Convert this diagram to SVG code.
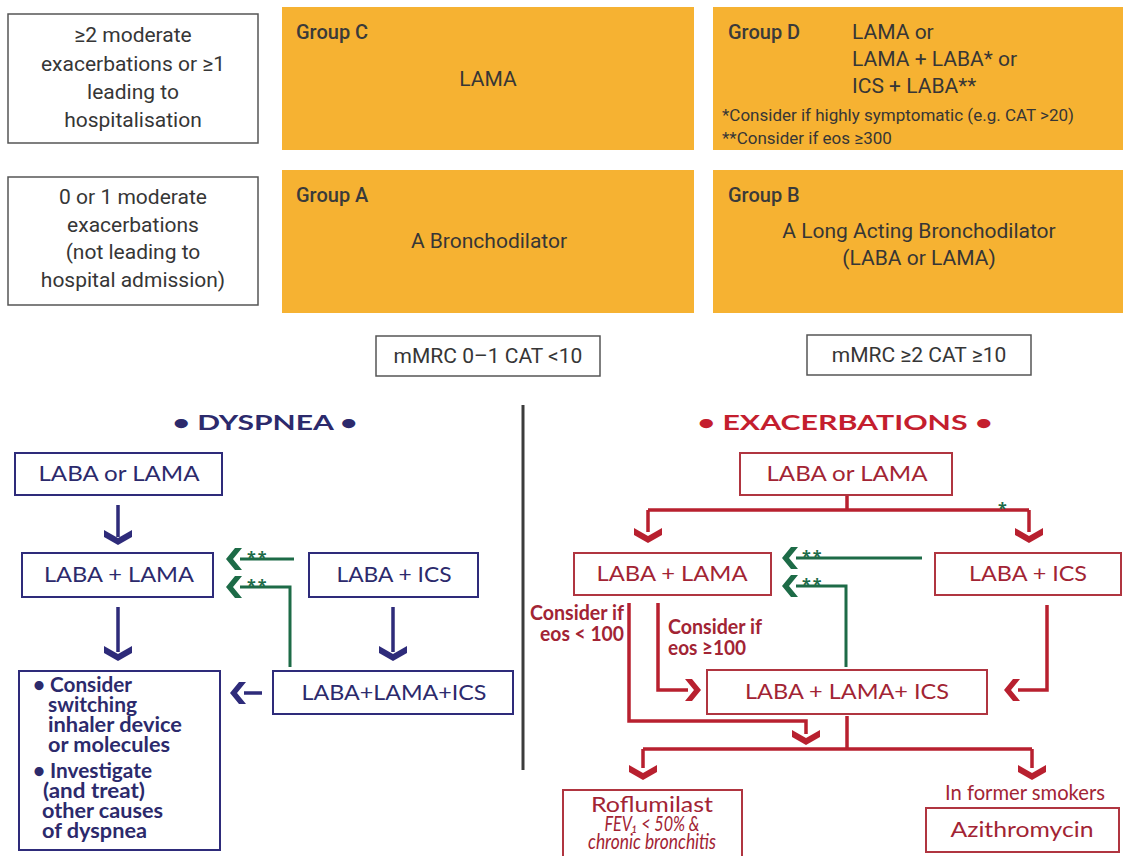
<svg xmlns="http://www.w3.org/2000/svg" width="1123" height="856" viewBox="0 0 1123 856">
<style>
.tb{fill:#fff;stroke:#555;stroke-width:1.5}
.or{fill:#F6B232}
.t{font-family:Roboto,"Liberation Sans",sans-serif;font-size:21px;fill:#363636}
.g{font-weight:500;fill:#3a3a3a;font-size:20px}
.fn{font-size:17px}
.nb{fill:#fff;stroke:#2e2b7a;stroke-width:2}
.rb{fill:#fff;stroke:#b03540;stroke-width:2}
.b{font-family:Lato,"Open Sans","Liberation Sans",sans-serif;font-size:21px}
.nt{fill:#2c2a6c}
.rt{fill:#a22434}
.sb{font-weight:700}
.nl{stroke:#2e2b7a;stroke-width:3.5;fill:none}
.rl{stroke:#b8202f;stroke-width:3.5;fill:none}
.gl{stroke:#1d6b47;stroke-width:3;fill:none}
.nf{fill:#2e2b7a}
.rf{fill:#b8202f}
.gf{fill:#1d6b47}
.ast{font-family:"Open Sans","Liberation Sans",sans-serif;font-size:16px;font-weight:700;fill:#1d6b47;letter-spacing:2px}
</style>
<defs>
<path id="chd" d="M0,0 L-14,-8 L-14,-15 L0,-7 L14,-15 L14,-8 Z"/>
<path id="chl" d="M0,0 L9,-11 L16,-11 L7,0 L16,11 L9,11 Z"/>
<path id="chr" d="M0,0 L-9,-11 L-16,-11 L-7,0 L-16,11 L-9,11 Z"/>
</defs>
<rect x="0" y="0" width="1123" height="856" fill="#fff"/>

<!-- top grid -->
<g id="row-high">
<rect class="tb" x="8" y="14" width="250" height="129"/>
<text class="t" text-anchor="middle"><tspan x="133" y="42">≥2 moderate</tspan><tspan x="133" y="71">exacerbations or ≥1</tspan><tspan x="133" y="99">leading to</tspan><tspan x="133" y="127">hospitalisation</tspan></text>
</g>
<g id="group-c">
<rect class="or" x="282" y="7" width="412" height="143"/>
<text class="t g" x="296" y="39">Group C</text>
<text class="t" x="488" y="86" text-anchor="middle">LAMA</text>
</g>
<g id="group-d">
<rect class="or" x="713" y="7" width="410" height="143"/>
<text class="t g" x="728" y="39">Group D</text>
<text class="t"><tspan x="852" y="39">LAMA or</tspan><tspan x="852" y="66">LAMA + LABA* or</tspan><tspan x="852" y="93">ICS + LABA**</tspan></text>
<text class="t fn"><tspan x="722" y="121">*Consider if highly symptomatic (e.g. CAT &gt;20)</tspan><tspan x="722" y="144">**Consider if eos ≥300</tspan></text>
</g>
<g id="row-low">
<rect class="tb" x="8" y="177" width="250" height="128"/>
<text class="t" text-anchor="middle"><tspan x="133" y="204">0 or 1 moderate</tspan><tspan x="133" y="232">exacerbations</tspan><tspan x="133" y="259">(not leading to</tspan><tspan x="133" y="287">hospital admission)</tspan></text>
</g>
<g id="group-a">
<rect class="or" x="282" y="170" width="412" height="143"/>
<text class="t g" x="296" y="202">Group A</text>
<text class="t" x="489" y="248" text-anchor="middle">A Bronchodilator</text>
</g>
<g id="group-b">
<rect class="or" x="713" y="170" width="410" height="143"/>
<text class="t g" x="728" y="202">Group B</text>
<text class="t" text-anchor="middle"><tspan x="919" y="238">A Long Acting Bronchodilator</tspan><tspan x="919" y="265">(LABA or LAMA)</tspan></text>
</g>
<g id="mmrc-low">
<rect class="tb" x="376" y="336" width="224" height="40"/>
<text class="t" x="488" y="363" text-anchor="middle" font-size="20">mMRC 0–1 CAT &lt;10</text>
</g>
<g id="mmrc-high">
<rect class="tb" x="807" y="335" width="224" height="40"/>
<text class="t" x="919" y="362" text-anchor="middle" font-size="20">mMRC ≥2 CAT ≥10</text>
</g>

<!-- divider -->
<line x1="523" y1="405" x2="523" y2="770" stroke="#3c3c3c" stroke-width="3"/>

<!-- headings -->
<g id="head-dys"><text class="b nt" x="265" y="430" text-anchor="middle" font-size="25" font-weight="700" textLength="185" lengthAdjust="spacingAndGlyphs">• DYSPNEA •</text></g>
<g id="head-exa"><text class="b" x="845" y="430" text-anchor="middle" font-size="25" font-weight="700" fill="#c41e2e" textLength="295" lengthAdjust="spacingAndGlyphs">• EXACERBATIONS •</text></g>

<!-- connectors -->
<g id="connectors">
<path class="nl" d="M118,505 V537 M118,607 V652 M393,607 V652 M262,693 H244"/>
<use href="#chd" class="nf" x="118" y="545"/>
<use href="#chd" class="nf" x="118" y="661"/>
<use href="#chd" class="nf" x="393" y="661"/>
<use href="#chl" class="nf" x="230" y="693"/>
<path class="gl" d="M294,559 H240 M290,667 V587 H240"/>
<use href="#chl" class="gf" x="226" y="559"/>
<use href="#chl" class="gf" x="226" y="587"/>
<text class="ast" x="247" y="563">**</text>
<text class="ast" x="247" y="591">**</text>

<path class="rl" d="M847,495 V510 M648,510 H1029 M648,510 V532 M1029,510 V532"/>
<use href="#chd" class="rf" x="648" y="543"/>
<use href="#chd" class="rf" x="1029" y="543"/>
<text class="ast" x="998" y="514">*</text>
<path class="gl" d="M922,558 H796 M846,667 V586 H796"/>
<use href="#chl" class="gf" x="782" y="558"/>
<use href="#chl" class="gf" x="782" y="586"/>
<text class="ast" x="802" y="562">**</text>
<text class="ast" x="802" y="590">**</text>
<path class="rl" d="M629,603 V721 H806 V734 M658,603 V690 H688 M1047,605 V690 H1018 M847,716 V749 M643,749 H1032 M643,749 V768 M1032,749 V768"/>
<use href="#chd" class="rf" x="806" y="745"/>
<use href="#chr" class="rf" x="701" y="690"/>
<use href="#chl" class="rf" x="1004" y="690"/>
<use href="#chd" class="rf" x="643" y="780"/>
<use href="#chd" class="rf" x="1032" y="780"/>
<text class="b rt sb" font-size="16" text-anchor="end"><tspan x="624" y="620" textLength="94" lengthAdjust="spacingAndGlyphs">Consider if</tspan><tspan x="624" y="641" textLength="84" lengthAdjust="spacingAndGlyphs">eos &lt; 100</tspan></text>
<text class="b rt sb" font-size="16"><tspan x="668" y="634" textLength="94" lengthAdjust="spacingAndGlyphs">Consider if</tspan><tspan x="668" y="655" textLength="78" lengthAdjust="spacingAndGlyphs">eos ≥100</tspan></text>
</g>

<!-- dyspnea nodes -->
<g id="d-labaorlama"><rect class="nb" x="15" y="453" width="207" height="42"/><text class="b nt" x="119" y="481" text-anchor="middle" textLength="161" lengthAdjust="spacingAndGlyphs">LABA or LAMA</text></g>
<g id="d-labalama"><rect class="nb" x="22" y="553" width="191" height="44"/><text class="b nt" x="119" y="582" text-anchor="middle" textLength="150" lengthAdjust="spacingAndGlyphs">LABA + LAMA</text></g>
<g id="d-labaics"><rect class="nb" x="309" y="553" width="169" height="44"/><text class="b nt" x="394" y="582" text-anchor="middle" textLength="115" lengthAdjust="spacingAndGlyphs">LABA + ICS</text></g>
<g id="d-triple"><rect class="nb" x="273" y="671" width="240" height="43"/><text class="b nt" x="394" y="700" text-anchor="middle" textLength="185" lengthAdjust="spacingAndGlyphs">LABA+LAMA+ICS</text></g>
<g id="d-consider"><rect class="nb" x="19" y="671" width="201" height="179"/>
<text class="b nt sb" font-size="15.5"><tspan x="33" y="692" textLength="99" lengthAdjust="spacingAndGlyphs">• Consider</tspan><tspan x="48" y="712" textLength="89" lengthAdjust="spacingAndGlyphs">switching</tspan><tspan x="48" y="732" textLength="134" lengthAdjust="spacingAndGlyphs">inhaler device</tspan><tspan x="48" y="752" textLength="122" lengthAdjust="spacingAndGlyphs">or molecules</tspan><tspan x="33" y="778" textLength="119" lengthAdjust="spacingAndGlyphs">• Investigate</tspan><tspan x="43" y="798" textLength="102" lengthAdjust="spacingAndGlyphs">(and treat)</tspan><tspan x="42" y="818" textLength="121" lengthAdjust="spacingAndGlyphs">other causes</tspan><tspan x="42" y="838" textLength="105" lengthAdjust="spacingAndGlyphs">of dyspnea</tspan></text></g>

<!-- exacerbation nodes -->
<g id="e-labaorlama"><rect class="rb" x="740" y="453" width="212" height="42"/><text class="b rt" x="847" y="481" text-anchor="middle" textLength="161" lengthAdjust="spacingAndGlyphs">LABA or LAMA</text></g>
<g id="e-labalama"><rect class="rb" x="574" y="553" width="197" height="42"/><text class="b rt" x="672" y="581" text-anchor="middle" textLength="151" lengthAdjust="spacingAndGlyphs">LABA + LAMA</text></g>
<g id="e-labaics"><rect class="rb" x="935" y="553" width="186" height="42"/><text class="b rt" x="1028" y="581" text-anchor="middle" textLength="118" lengthAdjust="spacingAndGlyphs">LABA + ICS</text></g>
<g id="e-triple"><rect class="rb" x="707" y="670" width="280" height="44"/><text class="b rt" x="847" y="699" text-anchor="middle" textLength="204" lengthAdjust="spacingAndGlyphs">LABA + LAMA+ ICS</text></g>
<g id="e-roflumilast"><rect class="rb" x="563" y="790" width="179" height="72"/>
<text class="b rt" x="652" y="812" text-anchor="middle" font-size="21" textLength="122" lengthAdjust="spacingAndGlyphs">Roflumilast</text>
<text class="b rt" font-size="13.5" font-style="italic" text-anchor="middle"><tspan x="652" y="831" textLength="95" lengthAdjust="spacingAndGlyphs">FEV₁ &lt; 50% &amp;</tspan><tspan x="652" y="849" textLength="128" lengthAdjust="spacingAndGlyphs">chronic bronchitis</tspan></text></g>
<g id="e-smokers"><text class="b rt" x="1025" y="800" text-anchor="middle" font-size="17" textLength="160" lengthAdjust="spacingAndGlyphs">In former smokers</text></g>
<g id="e-azithro"><rect class="rb" x="926" y="808" width="193" height="44"/><text class="b rt" x="1022" y="837" text-anchor="middle" font-size="21" textLength="143" lengthAdjust="spacingAndGlyphs">Azithromycin</text></g>
</svg>
